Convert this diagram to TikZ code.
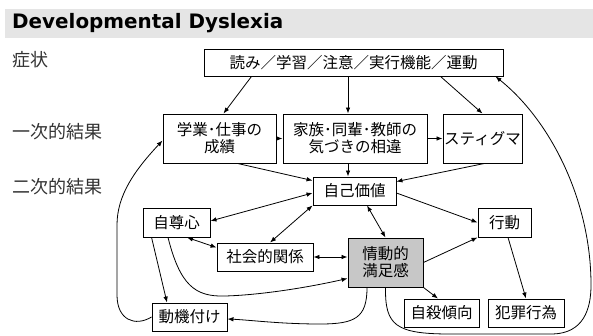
\documentclass[tikz,border=0pt]{standalone}
\usepackage{fontspec}
\setmainfont{Noto Sans CJK JP}
\newfontfamily\titlefont{DejaVu Sans}
\usetikzlibrary{arrows.meta, calc}

\tikzset{
  box/.style={draw, line width=0.9pt, inner sep=0pt, align=center, font=\fontsize{15.5}{17}\selectfont},
  lvl/.style={anchor=west, inner sep=0pt, text=black!80, font=\fontsize{18}{18}\selectfont},
  link/.style={line width=0.8pt, ->},
  both/.style={line width=0.8pt, <->},
}

\begin{document}
\begin{tikzpicture}[x=1pt, y=-1pt, >={Latex[length=6pt,width=4.5pt]}]
      \useasboundingbox (0,0) rectangle (593,336);
      \fill[black!10] (5,9) rectangle (593,38);
      \node[anchor=base west, inner sep=0pt, font=\titlefont\bfseries\fontsize{19.9}{20}\selectfont] (title) at (12,29) {Developmental Dyslexia};

      % levels
      \node[lvl] (shojo) at (12,60) {症状};
      \node[lvl] (ichiji) at (12,132) {一次的結果};
      \node[lvl] (niji) at (12,187) {二次的結果};

      % boxes
      \node[box, minimum width=299pt, minimum height=27pt] (symptom) at (353.5,62.5) {読み／学習／注意／実行機能／運動};
      \node[box, minimum width=113pt, minimum height=49pt] (gakugyo) at (219.5,138.5) {学業･仕事の\\成績};
      \node[box, minimum width=144pt, minimum height=49pt] (kazoku) at (355,138.5) {家族･同輩･教師の\\気づきの相違};
      \node[box, minimum width=79pt, minimum height=49pt] (stigma) at (482.5,138.5) {スティグマ};
      \node[box, minimum width=83pt, minimum height=28pt] (jiko) at (354.5,191) {自己価値};
      \node[box, minimum width=67pt, minimum height=29pt] (jison) at (176.5,222.5) {自尊心};
      \node[box, minimum width=53pt, minimum height=29pt] (koudou) at (504.5,222.5) {行動};
      \node[box, minimum width=96pt, minimum height=28pt] (shakai) at (265,257) {社会的関係};
      \node[box, fill=black!22, minimum width=75pt, minimum height=49pt] (jodo) at (385.5,262.5) {情動的\\満足感};
      \node[box, minimum width=75pt, minimum height=28pt] (douki) at (189.5,317) {動機付け};
      \node[box, minimum width=75pt, minimum height=28pt] (jisatsu) at (441.5,313) {自殺傾向};
      \node[box, minimum width=76pt, minimum height=28pt] (hanzai) at (526,313) {犯罪行為};

      % symptoms to primary
      \draw[link] ([xshift=-102pt]symptom.south) -- ([xshift=4pt]gakugyo.north);
      \draw[link] ([xshift=-7pt]kazoku.north |- symptom.south) -- ([xshift=-7pt]kazoku.north);
      \draw[link] ([xshift=87pt]symptom.south) -- (stigma.north);
      \draw[link] (gakugyo.east) -- (kazoku.west);
      \draw[link] (kazoku.east) -- (stigma.west);

      % primary to self worth
      \draw[link] ([xshift=18pt]gakugyo.south) -- ([yshift=-4pt]jiko.north west);
      \draw[link] ([xshift=-7pt]kazoku.south) -- ([xshift=-7pt]kazoku.south |- jiko.north);
      \draw[link] ([xshift=2pt]stigma.south) -- ([yshift=-5pt]jiko.north east);

      % secondary
      \draw[both] ([yshift=-2pt]jiko.west) -- ([yshift=1.5pt]jison.east);
      \draw[both] (jiko.south west) -- ([xshift=5pt]shakai.north);
      \draw[both] ([xshift=12.5pt]jiko.south) -- (jodo.north);
      \draw[link] ([yshift=-2pt]jiko.east) -- (koudou.west);
      \draw[link] (jodo.east) -- (koudou.south west);
      \draw[link] ([xshift=3.5pt]koudou.south) -- (hanzai.north);
      \draw[link] (jodo.south east) -- ([xshift=-3.5pt]jisatsu.north);
      \draw[both] ([xshift=10.5pt]jison.south) -- ([yshift=-5pt]shakai.north west);
      \draw[both] (shakai.east) -- (shakai.east -| jodo.west);
      \draw[link] ([xshift=9pt]jison.south west) -- ([xshift=-22.5pt]douki.north);

      % curved feedback
      \draw[link] ([xshift=-8.5pt]jison.south) .. controls (180,285) and (195,297) .. (225,296)
            .. controls (262,295) and (310,287) .. ([yshift=9pt]jodo.south west);
      \draw[link] ([xshift=-18.5pt]jodo.south) .. controls (367,318) and (355,324) .. (320,324)
            .. controls (280,324) and (250,320) .. ([yshift=-2pt]douki.east);
      \draw[link] (douki.west) .. controls (135,327) and (117,320) .. (117,295) -- (117,225)
            .. controls (117,195) and (135,170) .. ([yshift=-2pt]gakugyo.west);
      \draw[link] (jodo.south) .. controls (385,325) and (395,334) .. (450,334) -- (553,334)
            .. controls (583,333) and (591,310) .. (591,285)
            .. controls (591,200) and (550,120) .. ([xshift=-8pt]symptom.south east);

    \end{tikzpicture}
\end{document}
